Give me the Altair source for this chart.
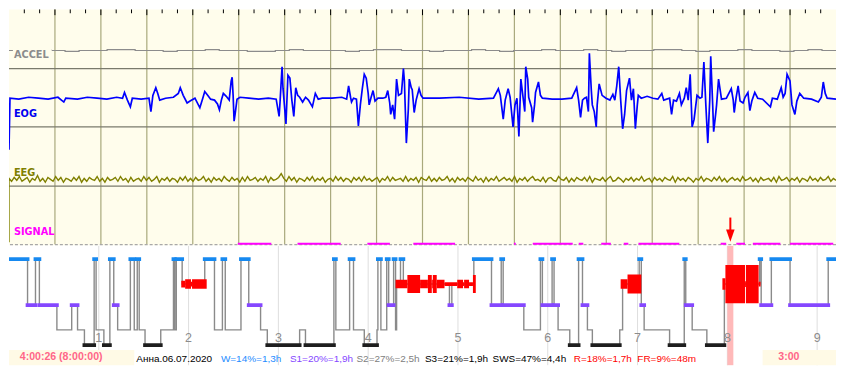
import altair as alt
import pandas as pd

# ------------------------------------------------------------------ data
PAGE_SECONDS = 180                # one 3:00 page of raw signals
DISPLAY_FS = 845 / PAGE_SECONDS   # display samples per second

# EOG trace: (display sample, amplitude in display units, up = positive)
EOG_SAMPLES = [
    (0, -54), (1, 0), (10, -1), (20, 1), (30, 0), (40, -1), (50, 1), (56, -4), (58, 0), (70, -1),
    (80, 1), (90, 0), (100, -1), (110, 1), (116, 0), (118, 6), (121, -2), (124, -9), (126, 0), (135, -1),
    (143, 0), (145, -14), (147, 3), (150, 11), (152, 5), (154, -2), (160, 0), (168, 1), (173, 5), (175, 11),
    (178, 3), (182, -5), (185, -3), (190, 0), (195, -10), (198, 0), (200, 7), (203, 3), (206, -1), (210, -2),
    (213, -6), (215, -12), (217, -2), (219, 5), (222, 2), (225, -2), (227, 18), (228, 22), (229, 3), (230, -24),
    (231, -17), (233, -1), (236, 1), (245, 0), (255, -1), (265, 0), (273, -1), (276, -19), (277, -3), (279, 33),
    (280, 10), (283, -27), (285, 24), (287, 21), (289, -2), (291, -19), (293, 11), (295, 3), (297, 1), (300, -4),
    (303, 1), (306, -2), (310, -9), (313, 5), (316, -1), (320, 0), (330, 0), (340, 1), (345, -1), (347, 13),
    (349, 1), (350, -4), (352, 0), (355, -1), (357, -29), (359, -7), (361, 10), (363, 25), (365, 21), (367, 5),
    (368, -7), (370, 1), (372, 8), (374, -3), (377, 0), (382, 0), (385, 1), (387, 8), (389, -5), (390, -17),
    (392, -7), (394, -22), (395, -2), (396, 20), (398, 3), (401, 5), (403, 31), (404, 18), (406, -47), (408, -12),
    (409, 20), (411, 11), (412, 9), (414, -15), (416, -2), (419, 10), (421, 3), (423, 0), (440, 0), (460, 1),
    (480, -1), (495, 0), (500, 10), (502, 3), (505, -22), (507, -2), (510, 10), (512, 1), (515, -30), (517, -7),
    (519, 0), (521, -40), (523, 20), (525, 3), (527, -14), (528, 33), (530, 20), (531, 1), (534, -10), (535, -25),
    (537, -7), (538, 6), (541, 17), (543, 3), (545, 0), (555, -1), (565, -1), (575, 0), (580, 11), (582, -2),
    (584, -20), (586, -2), (588, 0), (590, 1), (592, -14), (593, 47), (595, 8), (596, -7), (598, -14), (600, -30),
    (601, -7), (603, 15), (606, 3), (610, 0), (614, -2), (617, 4), (619, -2), (621, 13), (623, 33), (625, -2),
    (627, -32), (629, -17), (631, 8), (634, 21), (636, -2), (638, 10), (640, -32), (642, -7), (643, 3), (646, 0),
    (652, 2), (658, 0), (663, -1), (667, 5), (669, -2), (675, 0), (677, -17), (679, -2), (682, -3), (685, 5),
    (687, -7), (690, 0), (692, 11), (694, -2), (696, 25), (698, -30), (700, -22), (703, 3), (706, 0), (708, 1),
    (710, 38), (712, -7), (714, -47), (716, -2), (717, 44), (719, -7), (720, -35), (722, -17), (723, -7), (725, 20),
    (728, -1), (733, 0), (738, 10), (740, -2), (741, -15), (743, 1), (745, 13), (747, -3), (750, -5), (752, 1),
    (755, 6), (757, -13), (759, -3), (762, 6), (765, 0), (770, -1), (778, -9), (780, 0), (785, -1), (789, 11),
    (791, 1), (793, 5), (795, 25), (798, 18), (800, -7), (803, -17), (805, -3), (808, 5), (812, 0), (820, -1),
    (827, -4), (830, 1), (832, 17), (834, 5), (836, 0), (845, -1),
]

# EEG trace: evenly spaced over the page, display units
EEG_START = -66
EEG_VAL = [
    1, -2, 2, -1, 3, -2, 0, 2, -3, 1, -1, 4, -2, 1, -3, 2, 0, -2, 3, -1,
    2, -3, 1, 0, -2, 2, -1, 3, -3, 1, -2, 2, 0, -1, 3, -2, 1, -3, 2, -1,
    0, 2, -2, 3, -1, 1, -3, 2, -2, 0, 1, -2, 3, -1, 2, -2, 0, 3, -3, 1,
    -1, 2, -2, 1, 0, -3, 2, -1, 3, -2, 1, -2, 2, -1, 0, 3, -2, 1, -3, 2,
    -1, 1, -2, 3, 0, -2, 2, -1, 1, -3, 2, -2, 3, -1, 0, 2, -2, 1, -1, 3,
    -3, 2, -1, 0, 2, 6, 1, -2, 3, -1, 2, -3, 1, 0, -2, 2, -1, 3, -2, 1,
    -1, 2, -3, 0, 1, -2, 3, -1, 2, -2, 1, 0, -3, 2, -1, 2, -2, 3, -1, 1,
    -2, 0, 2, -3, 1, -1, 3, -2, 2, -1, 0, 1, -2, 3, -2, 1, -1, 2, -3, 2,
    0, -1, 3, -2, 1, -2, 2, -1, 0, 3, -2, 1, -3, 2, -1, 1, -2, 2, 0, -2,
    3, -1, 1, -3, 2, -2, 1, -1, 3, -2, 0, 2, -1, 1, -2, 3, -3, 1, -1, 2,
    -2, 1, 3, -1, 0, -2, 2, -3, 1, 2, -1, -2, 3, 0, -1, 2, -3, 1, -2, 2,
    0, -1, 2, -2, 3, -3, 1, 0, -1, 2, -2, 1, 3, -2, -1, 2, 0, -3, 1, -1,
    2, -2, 1, -1, 3, -2, 0, 1, -3, 2, -1, 1, -2, 2, 0, -1, 3, -3, 2, -1,
    1, -2, 2, 0, -3, 1, -1, 3, -2, 1, 0, -2, 2, -1, 3, -2, 1, -3, 0, 2,
    -1, 1, -2, 3, -1, 0, 2, -2, 1, -3, 2, -1, 0, 1, -2, 2, -3, 3, -1, 0,
    2, -2, 1, -1, 2, -3, 1, 0, -2, 3, -1, 1, -2, 2, -1, 0, 3, -2, 1, -1,
]

# ACCEL trace: evenly spaced over the page
ACCEL_VAL = [0, 0, 1, 0, -1, 0, 0, 1, 1, 0, 0, -1, 0, 0, 1, 0, 0, -1, -1, 0,
             1, 0, 0, 0, -1, 0, 1, 1, 0, 0, -1, 0, 0, 1, 0, -1, 0, 0, 1, 0,
             0, 1, 0, -1, 0, 0, 1, 1, 0, -1, 0, 0, 1, 0, 0, -1, 0, 1, 0, 0]

# SIGNAL "on" intervals, seconds within the page
SIGNAL_START = [49.8, 62.8, 78.0, 88.0, 109.9, 114.0, 124.0, 128.9, 133.8, 137.0, 154.9, 158.3, 161.9, 170.0]
SIGNAL_END = [57.1, 72.2, 82.9, 97.1, 110.3, 122.7, 125.0, 131.0, 134.8, 145.9, 156.1, 160.2, 167.9, 179.4]

# ---- hypnogram (whole night), minutes from start
REC_END_MIN = 552.6
HYP_MIN = [0, 12.4, 17.7, 20.3, 32.0, 41.9, 45.8, 50.4, 56.9, 58.2, 63.4, 67.4, 70.0, 72.6, 81.1,
           83.7, 85.7, 87.0, 90.9, 101.4, 109.9, 110.8, 111.8, 115.7, 130.8, 137.3, 142.6, 144.5,
           155.0, 160.2, 168.1, 172.6, 194.2, 198.1, 217.1, 218.4, 227.6, 230.2, 237.4, 245.9,
           246.5, 248.5, 252.4, 253.7, 257.0, 258.3, 259.0, 261.6, 263.5, 294.3, 295.9, 310.6,
           322.4, 328.9, 330.2, 344.0, 355.1, 356.4, 362.9, 364.2, 366.9, 374.7, 380.6, 383.2,
           386.5, 389.8, 408.1, 410.0, 421.1, 422.5, 424.4, 441.4, 451.2, 452.2, 456.5, 466.3,
           478.0, 501.6, 502.6, 509.4, 521.9, 547.4]
HYP_STAGE = ["W", "S1", "W", "S1", "S2", "S1", "S2", "S3", "W", "S2", "S3", "W", "S1", "S2", "W",
             "S2", "W", "S2", "S3", "S2", "W", "S2", "W", "R", "W", "S2", "W", "S2",
             "W", "S1", "S2", "S3", "S2", "S3", "W", "S2", "W", "S2", "S3", "S2",
             "W", "S2", "W", "S1", "W", "S2", "R", "W", "R", "S1", "R", "W",
             "S1", "W", "S1", "S2", "W", "S1", "W", "S1", "S2", "S3", "W", "S1",
             "S2", "S3", "S2", "R", "W", "S1", "S2", "S3", "W", "S1", "S2", "S3",
             "R", "W", "S1", "W", "S1", "W"]

# REM blocks: start/end (min) and band thickness (reference pixels)
R_START = [115.1, 117.7, 121.6, 122.3, 258.3, 266.2, 274.7, 279.9, 282.5, 283.2, 285.8, 291.0,
           299.5, 303.4, 304.1, 307.4, 310.0, 408.7, 413.3, 476.7, 478.7, 491.8, 492.4, 500.9]
R_END = [117.7, 121.6, 122.3, 132.1, 266.2, 274.7, 279.9, 282.5, 283.2, 285.8, 291.0, 299.5,
         303.4, 304.1, 307.4, 310.0, 311.9, 413.3, 422.5, 478.7, 491.8, 492.4, 500.9, 502.2]
R_THICK = [7, 10, 5, 10, 9, 19, 9, 19, 9, 19, 9, 4, 9, 4, 9, 4, 19, 10, 20, 12, 40, 6, 40, 5]

HOURS = [1, 2, 3, 4, 5, 6, 7, 8, 9]
CURSOR_START_MIN = 480.0
CURSOR_END_MIN = 484.0

STATUS_TEXT = ["Анна.06.07.2020", "W=14%=1,3h", "S1=20%=1,9h", "S2=27%=2,5h",
               "S3=21%=1,9h", "SWS=47%=4,4h", "R=18%=1,7h", "FR=9%=48m"]
STATUS_COLOR = ["#000000", "#1E8CFF", "#8547FF", "#808080", "#000000", "#000000", "#FF0000", "#FF0000"]
STATUS_X = [130, 216.5, 287, 355, 425, 494, 577, 642]
CLOCK_TEXT = "4:00:26 (8:00:00)"
PAGE_TEXT = "3:00"

# ------------------------------------------------------------------ layout
SX = 829 / 845
SY = 356 / 372
W = 829
ROWS_TOP = 247
H1 = ROWS_TOP * SY
H2 = 125 * SY

CREAM = "#FFFDEC"
GRID = "#A9A97C"
SEP = "#7A7A6C"

ACCEL_BASE, EOG_BASE, EEG_BASE, SIGNAL_BASE = 204, 154, 69, 1.6
SEPARATORS = [185, 124, 62]

xs = alt.Scale(domain=[0, PAGE_SECONDS], nice=False, zero=False)
ys = alt.Scale(domain=[0, ROWS_TOP], nice=False, zero=False)
xh = alt.Scale(domain=[0, REC_END_MIN], nice=False, zero=False)

def X(f):
    return alt.X(f, type="quantitative", scale=xs, axis=None)

def Y(f):
    return alt.Y(f, type="quantitative", scale=ys, axis=None)

# ---- top panel data frames
grid_df = pd.DataFrame({"t": [10 * k for k in range(1, 18)], "y0": ROWS_TOP, "y1": 1})
tick_df = pd.DataFrame({"t": [k * 10 / 3 for k in range(1, 54)]})
tick_df["y0"] = ROWS_TOP
tick_df["y1"] = [ROWS_TOP - (6 if k % 3 == 0 else 4) for k in range(1, 54)]
sep_df = pd.DataFrame({"y": SEPARATORS})

eog_df = pd.DataFrame({"i": range(len(EOG_SAMPLES)),
                       "t": [s / DISPLAY_FS for s, _ in EOG_SAMPLES],
                       "v": [EOG_BASE + v for _, v in EOG_SAMPLES]})
n_eeg = len(EEG_VAL)
eeg_df = pd.DataFrame({"i": range(n_eeg + 1),
                       "t": [0.0] + [k * PAGE_SECONDS / (n_eeg - 1) for k in range(n_eeg)],
                       "v": [EEG_BASE + EEG_START] + [EEG_BASE + v for v in EEG_VAL]})
n_acc = len(ACCEL_VAL)
acc_df = pd.DataFrame({"i": range(n_acc),
                       "t": [k * PAGE_SECONDS / (n_acc - 1) for k in range(n_acc)],
                       "v": [ACCEL_BASE + v for v in ACCEL_VAL]})
sig_df = pd.DataFrame({"a": SIGNAL_START, "b": SIGNAL_END, "y": SIGNAL_BASE})

label_df = pd.DataFrame({
    "label": ["ACCEL", "EOG", "EEG", "SIGNAL"],
    "t": [1.07] * 4,
    "y": [196.3, 134.3, 72.0, 10.3],
    "color": ["#8C8C8C", "#0000F0", "#808000", "#FF00FF"],
})
accel_bg = pd.DataFrame({"a": [0.85], "b": [9.3], "y0": [194], "y1": [211]})

cursor_mid = (CURSOR_START_MIN + CURSOR_END_MIN) / 2
arrow_shaft = pd.DataFrame({"m": [cursor_mid], "y0": [29], "y1": [15]})
arrow_head = pd.DataFrame({"m": [cursor_mid], "y": [10]})

top_layers = [
    alt.Chart(grid_df).mark_rule(color=GRID, strokeWidth=1.2).encode(x=X("t"), y=Y("y0"), y2="y1"),
    alt.Chart(tick_df).mark_rule(color="#000000", strokeWidth=1).encode(x=X("t"), y=Y("y0"), y2="y1"),
    alt.Chart(sep_df).mark_rule(color=SEP, strokeWidth=1.3).encode(y=Y("y")),
    alt.Chart(pd.DataFrame({"y": [0.6]})).mark_rule(color="#A8A8A8", strokeWidth=1.2,
                                                   strokeDash=[3, 2]).encode(y=Y("y")),
    alt.Chart(acc_df).mark_line(color="#8C8C8C", strokeWidth=1.2, interpolate="step-after",
                                clip=True).encode(x=X("t"), y=Y("v"), order="i:Q"),
    alt.Chart(accel_bg).mark_rect(color=CREAM).encode(x=X("a"), x2="b", y=Y("y0"), y2="y1"),
    alt.Chart(eog_df).mark_line(color="#0000FF", strokeWidth=1.7, clip=True).encode(
        x=X("t"), y=Y("v"), order="i:Q"),
    alt.Chart(eeg_df).mark_line(color="#808000", strokeWidth=1.4, clip=True).encode(
        x=X("t"), y=Y("v"), order="i:Q"),
    alt.Chart(sig_df).mark_rule(color="#FF00FF", strokeWidth=2, clip=True).encode(
        x=X("a"), x2="b", y=Y("y")),
    alt.Chart(label_df).mark_text(align="left", baseline="alphabetic", font="DejaVu Sans",
                                  fontWeight="bold", fontSize=9.8).encode(
        x=X("t"), y=Y("y"), text="label:N", color=alt.Color("color:N", scale=None)),
    alt.Chart(arrow_shaft).mark_rule(color="#FF0000", strokeWidth=2).encode(
        x=alt.X("m:Q", scale=xh, axis=None), y=Y("y0"), y2="y1"),
    alt.Chart(arrow_head).mark_point(shape="M-0.7,-1L0.7,-1L0,1Z", filled=True, size=150,
                                     color="#FF0000", opacity=1).encode(
        x=alt.X("m:Q", scale=xh, axis=None), y=Y("y")),
]
top = alt.layer(*top_layers).resolve_scale(x="independent").properties(
    width=W, height=H1, view=alt.ViewBackground(fill=CREAM, stroke=None))

# ---- hypnogram panel
LEVEL = {"W": 0.0, "R": 1.0, "S1": 1.846, "S2": 2.846, "S3": 3.462}
LEVEL_TOP = -0.538
LEVEL_BOTTOM = LEVEL_TOP + 125 / 26
yh = alt.Scale(domain=[LEVEL_TOP, LEVEL_BOTTOM], nice=False, zero=False, reverse=True)

def XH(f):
    return alt.X(f, type="quantitative", scale=xh, axis=None)

def YH(f):
    return alt.Y(f, type="quantitative", scale=yh, axis=None)

step_df = pd.DataFrame({
    "i": range(len(HYP_MIN) + 1),
    "m": HYP_MIN + [REC_END_MIN],
    "lv": [LEVEL[s] for s in HYP_STAGE] + [LEVEL[HYP_STAGE[-1]]],
})
seg_df = pd.DataFrame({
    "a": HYP_MIN,
    "b": HYP_MIN[1:] + [REC_END_MIN],
    "stage": HYP_STAGE,
    "lv": [LEVEL[s] for s in HYP_STAGE],
})
seg_df = seg_df[seg_df["stage"].isin(["W", "S1", "S3"])]
rem_df = pd.DataFrame({
    "a": R_START, "b": R_END,
    "y0": [LEVEL["R"] - t / 52 for t in R_THICK],
    "y1": [LEVEL["R"] + t / 52 for t in R_THICK],
})
hour_df = pd.DataFrame({"m": [60 * h for h in HOURS], "label": [str(h) for h in HOURS], "lv": 3.33})
cursor_df = pd.DataFrame({"a": [CURSOR_START_MIN], "b": [CURSOR_END_MIN]})

status_df = pd.DataFrame({
    "text": STATUS_TEXT, "color": STATUS_COLOR,
    "px": [x * SX for x in STATUS_X], "py": (368.3 - 247) * SY,
})
box_df = pd.DataFrame({"x0": [0, 770 * SX], "x1": [128 * SX, W],
                       "y0": (356 - 247) * SY, "y1": H2})
bold_df = pd.DataFrame({"text": [CLOCK_TEXT, PAGE_TEXT], "px": [11 * SX, 786 * SX],
                        "py": (366.5 - 247) * SY})

hyp_layers = [
    alt.Chart(hour_df).mark_rule(color="#DEDEDE", strokeWidth=1).encode(x=XH("m")),
    alt.Chart(box_df).mark_rect(color="#FFFAE6").encode(
        x=alt.X("x0:Q", scale=None), x2="x1", y=alt.Y("y0:Q", scale=None), y2="y1"),
    alt.Chart(cursor_df).mark_rect(color="#FFB9B9").encode(x=XH("a"), x2="b"),
    alt.Chart(step_df).mark_line(color="#8A8A8A", strokeWidth=1.4, interpolate="step-after",
                                 clip=True).encode(x=XH("m"), y=YH("lv"), order="i:Q"),
    alt.Chart(seg_df).mark_rule(strokeWidth=3.8, strokeCap="square", clip=True).encode(
        x=XH("a"), x2="b", y=YH("lv"),
        color=alt.Color("stage:N", scale=alt.Scale(domain=["W", "S1", "S3"],
                                                   range=["#1689F0", "#8547FF", "#1E1E1E"]),
                        legend=None)),
    alt.Chart(rem_df).mark_rect(color="#FF0000", clip=True).encode(
        x=XH("a"), x2="b", y=YH("y0"), y2="y1"),
    alt.Chart(hour_df).mark_text(font="Liberation Sans", fontSize=12.5, color="#8C8C8C",
                                 baseline="alphabetic", align="center").encode(
        x=XH("m"), y=YH("lv"), text="label:N"),
    alt.Chart(status_df).mark_text(font="Liberation Sans", fontSize=10, align="left",
                                   baseline="alphabetic").encode(
        x=alt.X("px:Q", scale=None), y=alt.Y("py:Q", scale=None), text="text:N",
        color=alt.Color("color:N", scale=None)),
    alt.Chart(bold_df).mark_text(font="Liberation Sans", fontSize=10.6, fontWeight="bold",
                                 align="left", baseline="alphabetic", color="#FF6688").encode(
        x=alt.X("px:Q", scale=None), y=alt.Y("py:Q", scale=None), text="text:N"),
]
hyp = alt.layer(*hyp_layers).properties(width=W, height=H2)

chart = alt.vconcat(top, hyp, spacing=0, bounds="flush").properties(
    padding=0
).configure_view(stroke=None)

chart.save("out.html", embed_options={"renderer": "svg", "actions": False})
